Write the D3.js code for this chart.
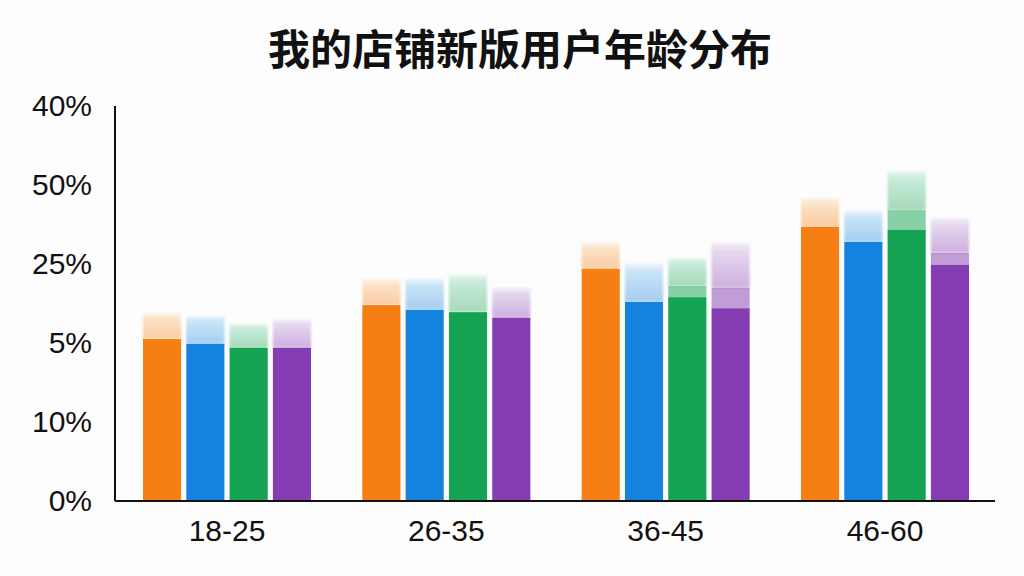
<!DOCTYPE html>
<html>
<head>
<meta charset="utf-8">
<script src="https://cdn.jsdelivr.net/npm/d3@7"></script>
<style>
  html, body { margin: 0; padding: 0; background: #fdfdfd; }
  svg { display: block; }
</style>
</head>
<body>
<svg id="chart" width="1024" height="576"></svg>
<script>
// chart data
const title = '我的店铺新版用户年龄分布';
const ageGroups = ['18-25', '26-35', '36-45', '46-60'];
const seriesNames = ['orange', 'blue', 'green', 'purple'];
const seriesColors = ['#f57f12', '#1483df', '#13a352', '#853db3'];
// value positions on the axis (0..50 scale units)
const solidValues = [
  [20.5, 19.9, 19.4, 19.4],
  [24.8, 24.2, 23.9, 23.2],
  [29.4, 25.2, 25.8, 24.4],
  [34.7, 32.8, 34.3, 29.9]
];
const midValues = [
  [null, null, null, null],
  [null, null, null, null],
  [null, null, 27.2, 27.0],
  [null, null, 36.8, 31.4]
];
const fadeValues = [
  [23.8, 23.4, 22.4, 23.0],
  [28.1, 28.1, 28.7, 27.0],
  [32.7, 30.0, 30.8, 32.7],
  [38.4, 36.7, 41.8, 35.8]
];
const yTickValues = [0, 10, 20, 30, 40, 50];
const yTickLabels = ['0%', '10%', '5%', '25%', '50%', '40%'];

const svg = d3.select('#chart');
const plotLeft = 115, plotRight = 995, plotTop = 106, plotBottom = 501;

const x0 = d3.scaleBand()
  .domain(ageGroups)
  .range([143, 969])
  .paddingInner(0.234)
  .paddingOuter(0);

const x1 = d3.scaleBand()
  .domain(seriesNames)
  .range([0, x0.bandwidth()])
  .paddingInner(0.12);

const y = d3.scaleLinear()
  .domain([0, 50])
  .range([plotBottom, plotTop]);

// gradients for the faded tops
const defs = svg.append('defs');
seriesColors.forEach((c, i) => {
  const g = defs.append('linearGradient')
    .attr('id', 'fade' + i)
    .attr('x1', 0).attr('y1', 1).attr('x2', 0).attr('y2', 0);
  g.append('stop').attr('offset', '0%').attr('stop-color', c).attr('stop-opacity', 0.4);
  g.append('stop').attr('offset', '80%').attr('stop-color', c).attr('stop-opacity', 0.2);
  g.append('stop').attr('offset', '100%').attr('stop-color', c).attr('stop-opacity', 0.07);
});
defs.append('filter').attr('id', 'soft')
  .attr('x', '-10%').attr('y', '-20%').attr('width', '120%').attr('height', '140%')
  .append('feGaussianBlur').attr('stdDeviation', 1.3);

// title
svg.append('text')
  .attr('x', 520)
  .attr('y', 65)
  .attr('text-anchor', 'middle')
  .attr('font-family', '"Noto Sans CJK SC", sans-serif')
  .attr('font-weight', 'bold')
  .attr('font-size', 42)
  .attr('fill', '#111')
  .text(title);

// bars
const barData = [];
ageGroups.forEach((g, gi) => {
  seriesNames.forEach((s, si) => {
    barData.push({
      group: g, series: s, si,
      solid: solidValues[gi][si],
      mid: midValues[gi][si],
      fade: fadeValues[gi][si]
    });
  });
});

const bars = svg.append('g').selectAll('g')
  .data(barData)
  .enter()
  .append('g')
  .attr('transform', d => `translate(${x0(d.group) + x1(d.series)},0)`);

// faded top
bars.append('rect')
  .attr('x', 0)
  .attr('width', x1.bandwidth())
  .attr('y', d => y(d.fade))
  .attr('height', d => y(d.mid != null ? d.mid : d.solid) - y(d.fade))
  .attr('fill', d => `url(#fade${d.si})`)
  .attr('filter', 'url(#soft)');

// middle band where present
bars.filter(d => d.mid != null)
  .append('rect')
  .attr('x', 0)
  .attr('width', x1.bandwidth())
  .attr('y', d => y(d.mid))
  .attr('height', d => y(d.solid) - y(d.mid))
  .attr('fill', d => seriesColors[d.si])
  .attr('fill-opacity', 0.5);

// solid bar
bars.append('rect')
  .attr('x', 0)
  .attr('width', x1.bandwidth())
  .attr('y', d => y(d.solid))
  .attr('height', d => y(0) - y(d.solid))
  .attr('fill', d => seriesColors[d.si]);

// axes
const yAxis = d3.axisLeft(y)
  .tickValues(yTickValues)
  .tickSize(0)
  .tickPadding(23)
  .tickFormat((d, i) => yTickLabels[i]);

const yG = svg.append('g')
  .attr('transform', `translate(${plotLeft},0)`)
  .call(yAxis);
yG.select('.domain').attr('stroke', '#111').attr('stroke-width', 2).attr('d', `M0,${plotTop}V${plotBottom}`);
yG.selectAll('text')
  .attr('font-family', '"Liberation Sans", Arial, sans-serif')
  .attr('font-size', 30)
  .attr('fill', '#111');

const xAxis = d3.axisBottom(x0).tickSize(0).tickPadding(19);
const xG = svg.append('g')
  .attr('transform', `translate(0,${plotBottom})`)
  .call(xAxis);
xG.select('.domain').attr('stroke', '#111').attr('stroke-width', 2).attr('d', `M${plotLeft},0H${plotRight}`);
xG.selectAll('text')
  .attr('font-family', '"Liberation Sans", Arial, sans-serif')
  .attr('font-size', 30)
  .attr('fill', '#111');
</script>
</body>
</html>
